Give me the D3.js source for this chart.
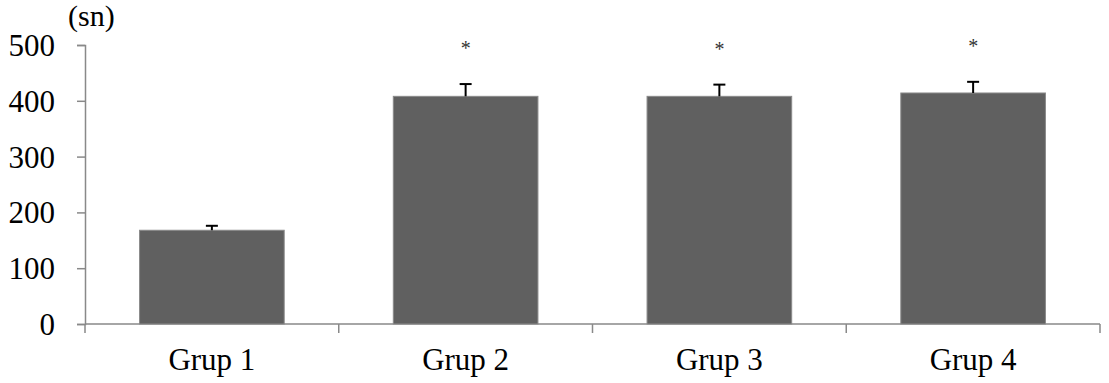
<!DOCTYPE html>
<html>
<head>
<meta charset="utf-8">
<script src="https://cdn.jsdelivr.net/npm/d3@7"></script>
</head>
<body style="margin:0;background:#fff">
<div id="chart"></div>
<script>
const categories = ["Grup 1", "Grup 2", "Grup 3", "Grup 4"];
const means = [168, 408, 408, 414];
const errors = [8, 22, 21, 20];
const significant = [false, true, true, true];
const yTicks = [0, 100, 200, 300, 400, 500];

const serif = "'Liberation Serif', 'Times New Roman', Times, serif";
const width = 1109;
const height = 383;
const margin = { top: 45, right: 9, bottom: 59, left: 85 };
const innerW = width - margin.left - margin.right;
const innerH = height - margin.top - margin.bottom;

const svg = d3.select("#chart")
  .append("svg")
  .attr("width", width)
  .attr("height", height)
  .append("g")
  .attr("transform", `translate(${margin.left},${margin.top})`);

const x = d3.scaleBand().domain(categories).range([0, innerW]).padding(0);
const y = d3.scaleLinear().domain([0, 500]).range([innerH, 0]);
const barW = x.bandwidth() * 0.57;

// y axis
const yAxis = svg.append("g")
  .call(d3.axisLeft(y).tickValues(yTicks).tickSize(8).tickPadding(22).tickFormat(d3.format("d")));
yAxis.selectAll("text")
  .attr("fill", "#000")
  .attr("dy", "0.34em")
  .style("font-family", serif)
  .style("font-size", "31px");
yAxis.selectAll("line, path").attr("stroke", "#898989").attr("stroke-width", 1.5);

// x axis with ticks at category boundaries
const xAxisG = svg.append("g").attr("transform", `translate(0,${innerH})`);
xAxisG.append("line")
  .attr("x1", 0).attr("x2", innerW)
  .attr("stroke", "#898989").attr("stroke-width", 1.5);
const bounds = categories.map(c => x(c)).concat([innerW]);
xAxisG.selectAll(".bt")
  .data(bounds)
  .enter()
  .append("line")
  .attr("class", "bt")
  .attr("x1", d => d).attr("x2", d => d)
  .attr("y1", 0).attr("y2", 9)
  .attr("stroke", "#898989").attr("stroke-width", 1.5);
xAxisG.selectAll(".xl")
  .data(categories)
  .enter()
  .append("text")
  .attr("class", "xl")
  .attr("x", d => x(d) + x.bandwidth() / 2)
  .attr("y", 46)
  .attr("text-anchor", "middle")
  .attr("fill", "#000")
  .style("font-family", serif)
  .style("font-size", "31px")
  .text(d => d);

// unit label
svg.append("text")
  .attr("x", -17)
  .attr("y", -19)
  .attr("fill", "#000")
  .style("font-family", serif)
  .style("font-size", "30px")
  .text("(sn)");

const data = categories.map((c, i) => ({ c, v: means[i], e: errors[i], s: significant[i] }));

// bars
svg.selectAll(".bar")
  .data(data)
  .enter()
  .append("rect")
  .attr("class", "bar")
  .attr("x", d => x(d.c) + (x.bandwidth() - barW) / 2)
  .attr("y", d => y(d.v))
  .attr("width", barW)
  .attr("height", d => innerH - y(d.v))
  .attr("fill", "#606060")
  .attr("stroke", "#8a8a8a")
  .attr("stroke-width", 1);

// error bars (upper only)
const eb = svg.selectAll(".err").data(data).enter().append("g").attr("class", "err");
eb.append("line")
  .attr("x1", d => x(d.c) + x.bandwidth() / 2)
  .attr("x2", d => x(d.c) + x.bandwidth() / 2)
  .attr("y1", d => y(d.v))
  .attr("y2", d => y(d.v + d.e))
  .attr("stroke", "#000").attr("stroke-width", 2);
eb.append("line")
  .attr("x1", d => x(d.c) + x.bandwidth() / 2 - 6)
  .attr("x2", d => x(d.c) + x.bandwidth() / 2 + 6)
  .attr("y1", d => y(d.v + d.e))
  .attr("y2", d => y(d.v + d.e))
  .attr("stroke", "#000").attr("stroke-width", 2);

// significance marks
svg.selectAll(".star")
  .data(data.filter(d => d.s))
  .enter()
  .append("text")
  .attr("class", "star")
  .attr("x", d => x(d.c) + x.bandwidth() / 2)
  .attr("y", d => y(d.v + d.e) - 29)
  .attr("text-anchor", "middle")
  .attr("fill", "#333")
  .style("font-family", serif)
  .style("font-size", "20px")
  .text("*");
</script>
</body>
</html>
